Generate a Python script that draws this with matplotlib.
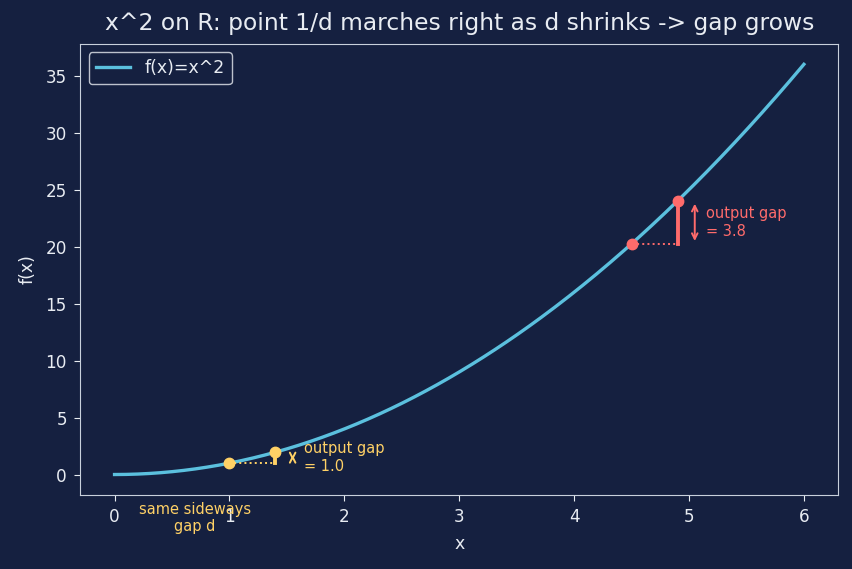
import numpy as np
import matplotlib.pyplot as plt

# curve and the two point pairs (same sideways gap d = 0.4)
x_curve = np.linspace(0, 6, 300)
pairs_x0 = [1.0, 4.5]
pairs_x1 = [1.4, 4.9]
pair_colors = ["#ffd166", "#ff6b6b"]

bg = "#152040"
fg = "#e8ecf2"

fig, ax = plt.subplots(figsize=(8.52, 5.69), dpi=100)
fig.patch.set_facecolor(bg)
ax.set_facecolor(bg)

ax.plot(x_curve, x_curve ** 2, color="#5bc0de", lw=2.4, label="f(x)=x^2")

for x0, x1, c in zip(pairs_x0, pairs_x1, pair_colors):
    y0, y1 = x0 ** 2, x1 ** 2
    ax.plot([x0, x1], [y0, y1], "o", color=c, ms=7.5, zorder=5)
    ax.plot([x0, x1], [y0, y0], ":", color=c, lw=1.4)
    ax.plot([x1, x1], [y0, y1], color=c, lw=2.8)
    ax.annotate("", xy=(x1 + 0.15, y1), xytext=(x1 + 0.15, y0),
                arrowprops=dict(arrowstyle="<->", color=c, lw=1.4))
    ax.text(x1 + 0.25, (y0 + y1) / 2, "output gap\n= %.1f" % (y1 - y0),
            color=c, fontsize=10.5, va="center", ha="left")

ax.text(0.7, -3.8, "same sideways\ngap d", color=pair_colors[0], fontsize=10.5,
        ha="center", va="center", clip_on=False)

ax.set_title("x^2 on R: point 1/d marches right as d shrinks -> gap grows",
             color=fg, fontsize=16.8, pad=10)
ax.set_xlabel("x", color=fg, fontsize=12.5, labelpad=6)
ax.set_ylabel("f(x)", color=fg, fontsize=12.5, labelpad=6)
ax.tick_params(colors=fg, labelsize=12.2, pad=5, length=4.5)
for s in ax.spines.values():
    s.set_color("#c8d0dc")

leg = ax.legend(loc="upper left", fontsize=12.5, facecolor=bg, edgecolor=fg)
for t in leg.get_texts():
    t.set_color(fg)

plt.subplots_adjust(left=0.094, right=0.984, top=0.923, bottom=0.13)
plt.savefig("out.png", facecolor=bg)
